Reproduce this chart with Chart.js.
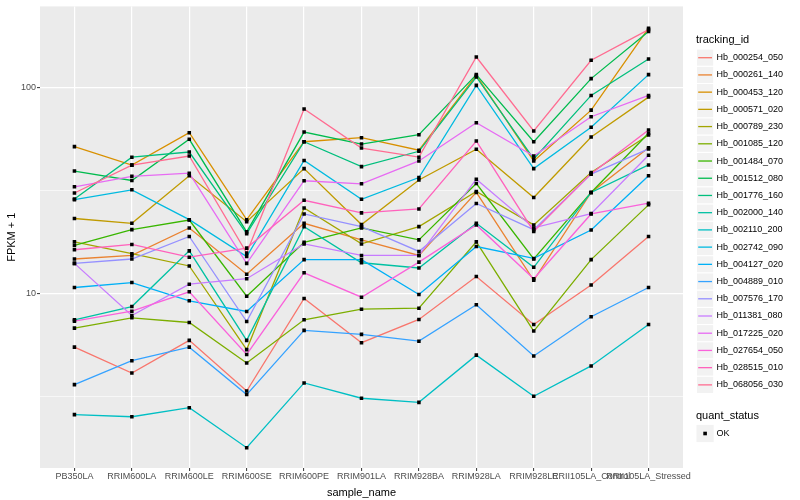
<!DOCTYPE html>
<html>
<head>
<meta charset="utf-8">
<script src="https://cdn.jsdelivr.net/npm/chart.js@4.4.0/dist/chart.umd.min.js"></script>
<style>
  html, body { margin: 0; padding: 0; background: #fff; }
  #wrap { width: 800px; height: 500px; }
</style>
</head>
<body>
<div id="wrap"><canvas id="chart" width="800" height="500"></canvas></div>
<script>
// sample names along x
const samples = ['PB350LA', 'RRIM600LA', 'RRIM600LE', 'RRIM600SE', 'RRIM600PE', 'RRIM901LA',
  'RRIM928BA', 'RRIM928LA', 'RRIM928LE', 'RRII105LA_Control', 'RRII105LA_Stressed'];

// FPKM + 1 per gene, one value per sample
const hb_000254_050 = [5.50, 4.12, 5.93, 3.37, 9.46, 5.78, 7.49, 12.1, 7.08, 11.0, 18.9];
const hb_000261_140 = [14.7, 15.3, 20.8, 12.4, 21.9, 18.2, 15.3, 30.9, 11.6, 30.9, 50.9];
const hb_000453_120 = [51.5, 41.9, 60.2, 22.8, 54.4, 56.9, 49.5, 114, 43.9, 77.4, 193];
const hb_000571_020 = [23.1, 21.9, 37.2, 22.3, 40.3, 21.6, 35.5, 50.0, 29.2, 57.3, 89.5];
const hb_000789_230 = [17.8, 15.6, 13.6, 5.35, 26.0, 17.4, 21.1, 31.2, 21.5, 38.6, 58.6];
const hb_001085_120 = [6.80, 7.63, 7.24, 4.61, 7.46, 8.40, 8.49, 17.8, 6.58, 14.6, 26.9];
const hb_001484_070 = [17.1, 20.4, 22.7, 9.71, 17.7, 20.8, 18.2, 34.1, 14.7, 30.9, 59.8];
const hb_001512_080 = [39.2, 35.3, 55.9, 19.9, 60.6, 53.0, 58.8, 115, 54.4, 110, 186];
const hb_001776_160 = [28.7, 45.8, 48.5, 19.5, 54.4, 41.2, 48.9, 112, 44.9, 91.2, 137];
const hb_002000_140 = [7.46, 8.65, 16.1, 5.93, 21.1, 14.1, 13.3, 21.9, 13.4, 30.9, 42.0];
const hb_002110_200 = [2.59, 2.53, 2.80, 1.79, 3.69, 3.11, 2.97, 5.03, 3.18, 4.46, 7.08];
const hb_002742_090 = [28.5, 31.8, 22.8, 15.1, 44.1, 28.6, 36.5, 102, 40.3, 63.9, 115];
const hb_004127_020 = [10.7, 11.3, 9.22, 8.19, 14.6, 14.6, 9.89, 16.9, 14.8, 20.3, 37.2];
const hb_004889_010 = [3.62, 4.73, 5.50, 3.24, 6.63, 6.34, 5.88, 8.82, 4.98, 7.72, 10.7];
const hb_007576_170 = [14.0, 14.7, 18.9, 7.32, 24.3, 21.1, 16.0, 27.3, 20.4, 37.9, 50.2];
const hb_011381_080 = [14.0, 7.83, 11.1, 11.8, 17.4, 15.3, 15.3, 35.8, 20.8, 24.4, 46.8];
const hb_017225_020 = [32.9, 37.0, 38.3, 14.0, 35.2, 34.0, 43.9, 67.2, 46.4, 71.9, 91.2];
const hb_027654_050 = [7.35, 8.21, 10.2, 5.07, 12.6, 9.60, 14.2, 21.5, 11.8, 24.3, 27.4];
const hb_028515_010 = [16.3, 17.3, 15.0, 16.6, 28.3, 24.6, 25.7, 54.8, 20.0, 38.1, 62.0];
const hb_068056_030 = [30.7, 41.9, 46.4, 15.7, 78.3, 50.7, 45.8, 140, 61.3, 135, 190];

const trackingIds = ['Hb_000254_050', 'Hb_000261_140', 'Hb_000453_120', 'Hb_000571_020',
  'Hb_000789_230', 'Hb_001085_120', 'Hb_001484_070', 'Hb_001512_080', 'Hb_001776_160',
  'Hb_002000_140', 'Hb_002110_200', 'Hb_002742_090', 'Hb_004127_020', 'Hb_004889_010',
  'Hb_007576_170', 'Hb_011381_080', 'Hb_017225_020', 'Hb_027654_050', 'Hb_028515_010',
  'Hb_068056_030'];
const series = [hb_000254_050, hb_000261_140, hb_000453_120, hb_000571_020, hb_000789_230,
  hb_001085_120, hb_001484_070, hb_001512_080, hb_001776_160, hb_002000_140, hb_002110_200,
  hb_002742_090, hb_004127_020, hb_004889_010, hb_007576_170, hb_011381_080, hb_017225_020,
  hb_027654_050, hb_028515_010, hb_068056_030];

const quantStatus = ['OK'];
const yMajorTicks = [10, 100];
const yMinorTicks = [3.162, 31.62];

// ggplot hue palette, 20 levels
const palette = ['#F8766D', '#EA8331', '#D89000', '#C09B00', '#A3A500', '#7CAE00', '#39B600',
  '#00BB4E', '#00BF7D', '#00C1A3', '#00BFC4', '#00BAE0', '#00B0F6', '#35A2FF', '#9590FF',
  '#C77CFF', '#E76BF3', '#FA62DB', '#FF62BC', '#FF6C91'];

const FONT = '"Liberation Sans", Arial, Helvetica, sans-serif';

const toPoints = vals => vals.map((v, i) => ({ x: i, y: v }));

const lineSets = series.map((vals, i) => ({
  label: trackingIds[i],
  data: toPoints(vals),
  borderColor: palette[i],
  borderWidth: 1.3,
  pointRadius: 0,
  tension: 0,
  order: 100 - i
}));
const pointSets = series.map((vals, i) => ({
  label: trackingIds[i] + ' ' + quantStatus[0],
  data: toPoints(vals),
  showLine: false,
  pointStyle: 'rect',
  pointRadius: 2.5,
  pointBackgroundColor: '#000',
  pointBorderColor: '#000',
  pointBorderWidth: 0,
  order: 0
}));

const panelBg = {
  id: 'panelBg',
  beforeDraw(chart) {
    const { ctx, chartArea: a } = chart;
    ctx.save();
    ctx.fillStyle = '#fff';
    ctx.fillRect(0, 0, chart.width, chart.height);
    ctx.fillStyle = '#EBEBEB';
    ctx.fillRect(a.left, a.top, a.right - a.left, a.bottom - a.top);
    ctx.restore();
  }
};

const ggLegend = {
  id: 'ggLegend',
  afterDraw(chart) {
    const ctx = chart.ctx;
    const kx = 696.5, ks = 17.2;
    ctx.save();
    ctx.textBaseline = 'middle';
    ctx.textAlign = 'left';
    ctx.fillStyle = '#000';
    ctx.font = '11px ' + FONT;
    ctx.fillText('tracking_id', 696, 40);
    trackingIds.forEach((name, i) => {
      const cy = 57.7 + i * 17.22;
      ctx.fillStyle = '#F2F2F2';
      ctx.fillRect(kx, cy - ks / 2, ks, ks);
      ctx.strokeStyle = '#fff';
      ctx.lineWidth = 1;
      ctx.strokeRect(kx, cy - ks / 2, ks, ks);
      ctx.strokeStyle = palette[i];
      ctx.lineWidth = 1.3;
      ctx.beginPath();
      ctx.moveTo(kx + 1.7, cy);
      ctx.lineTo(kx + ks - 1.7, cy);
      ctx.stroke();
      ctx.fillStyle = '#000';
      ctx.font = '9px ' + FONT;
      ctx.fillText(name, 716.5, cy);
    });
    ctx.font = '11px ' + FONT;
    ctx.fillText('quant_status', 696, 416);
    quantStatus.forEach((name, i) => {
      const cy = 433.5 + i * 17.22;
      ctx.fillStyle = '#F2F2F2';
      ctx.fillRect(kx, cy - ks / 2, ks, ks);
      ctx.fillStyle = '#000';
      ctx.fillRect(kx + ks / 2 - 1.8, cy - 1.8, 3.6, 3.6);
      ctx.font = '9px ' + FONT;
      ctx.fillText(name, 716.5, cy);
    });
    ctx.restore();
  }
};

new Chart(document.getElementById('chart'), {
  type: 'line',
  data: { datasets: [...pointSets, ...lineSets] },
  options: {
    responsive: false,
    animation: false,
    devicePixelRatio: 1,
    layout: { padding: { left: 0, right: 117, top: 5, bottom: 0 } },
    plugins: { legend: { display: false }, tooltip: { enabled: false } },
    scales: {
      x: {
        type: 'linear',
        min: -0.6,
        max: 10.6,
        afterBuildTicks: s => { s.ticks = samples.map((_, i) => ({ value: i })); },
        afterFit: s => { s.height = 32; },
        border: { display: false },
        grid: { color: '#fff', lineWidth: 1.2, tickColor: '#333', tickLength: 3, tickWidth: 1 },
        ticks: {
          callback: v => samples[v],
          autoSkip: false, maxRotation: 0, minRotation: 0, padding: 0,
          color: '#4D4D4D', font: { family: FONT, size: 9 }
        },
        title: {
          display: true, text: 'sample_name', color: '#000',
          font: { family: FONT, size: 11 }, padding: { top: 5, bottom: 0 }
        }
      },
      y: {
        type: 'logarithmic',
        min: 1.428,
        max: 246.2,
        afterBuildTicks: s => {
          s.ticks = [...yMinorTicks, ...yMajorTicks].sort((a, b) => a - b).map(v => ({ value: v }));
        },
        afterFit: s => { s.width = 40; },
        border: { display: false },
        grid: {
          color: '#fff',
          lineWidth: c => (c.tick && yMajorTicks.includes(c.tick.value) ? 1.2 : 0.6),
          tickColor: c => (c.tick && yMajorTicks.includes(c.tick.value) ? '#333' : 'rgba(0,0,0,0)'),
          tickLength: 3, tickWidth: 1
        },
        ticks: {
          callback: v => (yMajorTicks.includes(v) ? String(v) : ''),
          autoSkip: false, padding: 1,
          color: '#4D4D4D', font: { family: FONT, size: 9 }
        },
        title: {
          display: true, text: 'FPKM + 1', color: '#000',
          font: { family: FONT, size: 11 }, padding: { top: 5, bottom: 0 }
        }
      }
    }
  },
  plugins: [panelBg, ggLegend]
});
</script>
</body>
</html>
